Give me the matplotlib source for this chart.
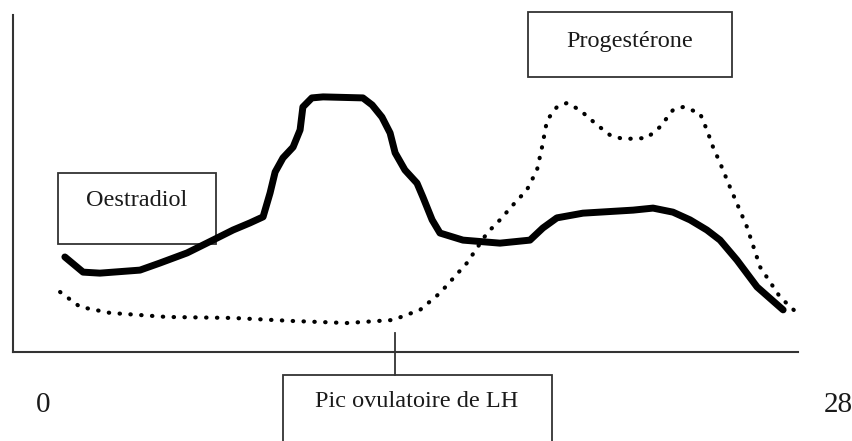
import matplotlib
matplotlib.use("Agg")
import matplotlib.pyplot as plt
from matplotlib.patches import Rectangle

# ------ DATA (day of cycle, relative level) ------#
oestro_day = [1.85, 2.50, 3.10, 4.53, 5.24, 6.21, 7.13, 7.85, 8.45, 8.92, 9.17, 9.35,
              9.63, 9.99, 10.24, 10.34, 10.66, 11.06, 12.48, 12.81, 13.16, 13.45,
              13.63, 13.98, 14.41, 14.62, 14.95, 15.23, 16.05, 17.37, 18.44, 18.90,
              19.40, 20.33, 22.12, 22.83, 23.54, 24.15, 24.75, 25.22, 25.82, 26.54,
              27.47]
oestro_lvl = [28.2, 23.7, 23.4, 24.3, 26.4, 29.4, 33.2, 36.2, 38.3, 40.1, 47.2, 53.4,
              57.6, 60.8, 65.9, 72.7, 75.4, 75.7, 75.4, 73.3, 69.7, 65.0,
              59.1, 54.0, 50.1, 46.0, 39.2, 35.3, 33.2, 32.3, 33.2, 36.8,
              39.8, 41.2, 42.1, 42.7, 41.5, 39.2, 36.2, 33.2, 27.3, 19.3,
              12.5]

proges_day = [1.68, 2.39, 3.46, 5.49, 7.85, 9.99, 11.91, 13.55, 14.52, 15.23, 16.19,
              16.91, 17.37, 17.83, 18.33, 18.69, 18.87, 19.05, 19.40, 19.76, 20.22,
              20.83, 21.29, 21.76, 22.61, 23.08, 23.54, 23.90, 24.50, 24.75, 24.97,
              25.22, 25.57, 26.18, 26.65, 27.36, 27.96]
proges_lvl = [17.8, 13.4, 11.6, 10.4, 10.1, 9.2, 8.6, 9.5, 12.5, 17.5, 26.4,
              35.3, 39.2, 43.6, 48.1, 54.0, 60.8, 68.8, 72.7, 73.9, 71.8,
              67.4, 64.4, 63.2, 63.5, 66.8, 71.8, 72.7, 70.9, 65.9, 60.8,
              56.1, 49.0, 37.1, 25.2, 16.3, 11.6]

lh_peak_day = 13.63
day_labels = ["0", "28"]

plt.rcParams['font.family'] = ['Liberation Serif', 'DejaVu Serif']
ink = "#1a1a1a"

fig = plt.figure(figsize=(8.53, 4.41), dpi=100)
ax = fig.add_axes([13/853, (441-352)/441, 785/853, 337/441])
ax.set_xlim(0, 28)
ax.set_ylim(0, 100)

ax.plot(oestro_day, oestro_lvl, color="black", lw=5, solid_joinstyle="round",
        solid_capstyle="round")
ax.plot(proges_day, proges_lvl, color="black", lw=3, linestyle=(0, (0.1, 2.5)),
        dash_capstyle="round")

for s in ["top", "right"]:
    ax.spines[s].set_visible(False)
for s in ["left", "bottom"]:
    ax.spines[s].set_linewidth(1.5)
    ax.spines[s].set_color("#333333")
ax.set_xticks([])
ax.set_yticks([])

#------ LABEL BOXES ------#
def box(x0, x1, y0, y1):
    ax.add_patch(Rectangle((x0, y0), x1 - x0, y1 - y0, fill=False, ec="#333333",
                           lw=1.3, clip_on=False))

box(1.61, 7.24, 32.0, 53.1)
ax.text(4.42, 45.1, "Oestradiol", ha="center", va="center", fontsize=17.5, color=ink)

box(18.37, 25.65, 81.6, 100.9)
ax.text(22.0, 92.0, "Progestérone", ha="center", va="center", fontsize=17.5,
        color=ink, clip_on=False)

box(9.63, 19.23, -30, -6.8)
ax.text(14.41, -14.8, "Pic ovulatoire de LH", ha="center", va="center",
        fontsize=17.5, color=ink, clip_on=False)
ax.plot([lh_peak_day, lh_peak_day], [5.6, -6.8], color="#333333", lw=1.3,
        clip_on=False)

ax.text(1.07, -15.7, day_labels[0], ha="center", va="center", fontsize=21,
        color=ink, clip_on=False)
ax.text(29.43, -15.7, day_labels[1], ha="center", va="center", fontsize=21,
        color=ink, clip_on=False)

plt.savefig("out.png", dpi=100)
